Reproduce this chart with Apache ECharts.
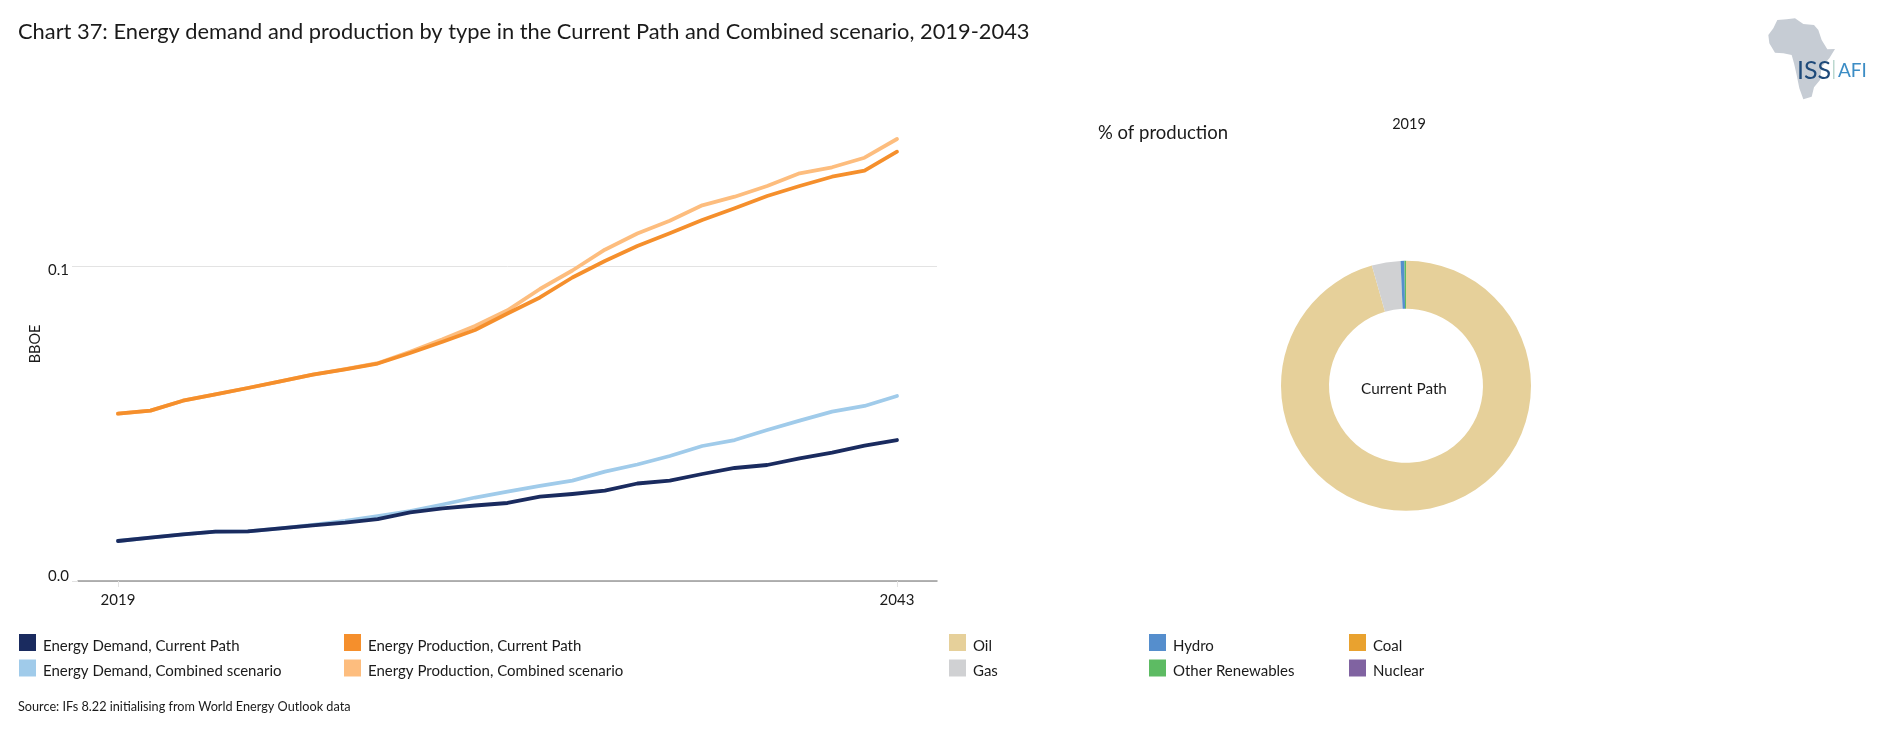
<!DOCTYPE html>
<html><head><meta charset="utf-8">
<style>html,body{margin:0;padding:0;background:#fff}#c{width:1880px;height:739px}</style>
<script src="https://cdn.jsdelivr.net/npm/echarts@6/dist/echarts.min.js"></script>
</head><body><div id="c"></div>
<script>
const years = [2019,2020,2021,2022,2023,2024,2025,2026,2027,2028,2029,2030,2031,2032,2033,2034,2035,2036,2037,2038,2039,2040,2041,2042,2043];
const demandCurrent = [.01271,.01376,.01484,.01567,.01579,.01675,.0177,.01853,.01964,.02183,.0231,.02399,.02479,.02679,.02765,.02869,.03098,.03187,.034,.03591,.03686,.03899,.04077,.04299,.0448];
const demandCombined = [.01271,.01376,.01484,.01567,.01579,.01675,.0178,.01907,.02065,.02224,.02431,.02653,.02838,.03019,.03187,.03473,.03702,.03972,.0429,.0448,.04798,.05094,.0538,.05561,.05879];
const prodCurrent = [.05316,.05412,.05729,.05933,.06133,.06346,.06556,.06727,.06911,.07245,.07604,.07976,.085,.09009,.09644,.10168,.10645,.11049,.11471,.11843,.12234,.12552,.12847,.13038,.13642];
const prodCombined = [.05316,.05412,.05729,.05933,.06133,.06346,.06556,.06735,.0692,.07286,.0768,.08103,.08602,.09279,.09867,.10527,.11042,.11449,.11938,.12212,.12552,.12955,.13146,.13451,.14045];
const yTicks = [0, 0.1];
const xTicks = [2019, 2043];
const mixNames = ['Oil','Gas','Hydro','Other Renewables','Coal','Nuclear'];
const mixValues = [95.6,3.7,0.5,0.2,0,0];
const mixColors = ['#E6D09A','#D0D1D3','#558ECD','#5DBB63','#E9A22F','#8063A1'];
const FONT = 'Lato';
const TXT = '#1a1a1a';
const africa = [[112,60],[140,58],[165,55],[190,72],[222,75],[235,90],[245,120],[262,148],[285,147],[268,175],[245,200],[240,240],[222,262],[215,290],[190,298],[178,265],[170,225],[162,190],[155,165],[130,160],[105,158],[88,130],[85,105],[100,85]];
const pair = a => a.map((v,i)=>[years[i],v]);
const line = (name,data,color,z) => ({type:'line',name,data:pair(data),z,symbol:'none',smooth:false,
  lineStyle:{color,width:3.8,cap:'round',join:'round'},itemStyle:{color}});
const legendBase = {orient:'vertical',icon:'rect',itemGap:6,itemHeight:17,itemWidth:17,padding:0,top:634,
  formatter:n=>'{t|'+n+'}',
  textStyle:{rich:{t:{fontFamily:FONT,fontSize:15,color:TXT,padding:[7,0,0,2]}}},selectedMode:false};
const leg = (left,data)=>({...legendBase,left,data});
const tt = (text,left,top,fontSize,extra) => ({text,left,top,padding:0,...extra,textStyle:{fontFamily:FONT,fontSize,fontWeight:'normal',color:TXT}});
const chart = echarts.init(document.getElementById('c'),null,{renderer:'canvas'});
chart.setOption({
  backgroundColor:'#fff',
  animation:false,
  title:[
    tt('Chart 37: Energy demand and production by type in the Current Path and Combined scenario, 2019-2043',18,21,21.85),
    tt('% of production',1098,124,18.5),
    tt('2019',1409,117,14.5,{textAlign:'center'}),
    tt('Current Path',1404,382,15.3,{textAlign:'center'}),
    tt('Source: IFs 8.22 initialising from World Energy Outlook data',18,700,12.7)
  ],
  legend:[
    leg(19,['Energy Demand, Current Path','Energy Demand, Combined scenario']),
    leg(344,['Energy Production, Current Path','Energy Production, Combined scenario']),
    leg(949,['Oil','Gas']),
    leg(1149,['Hydro','Other Renewables']),
    leg(1349,['Coal','Nuclear'])
  ],
  grid:{left:78,width:859,top:107,height:474},
  xAxis:{type:'value',min:2019-40/32.458,max:2043+40/32.458,
    axisLine:{show:true,lineStyle:{color:'#9a9a9a',width:1.5}},
    axisTick:{show:true,length:6,lineStyle:{color:'#e3e3e3'},customValues:xTicks},
    axisLabel:{customValues:xTicks,fontFamily:FONT,fontSize:15,color:TXT,margin:12,formatter:v=>String(v)},
    splitLine:{show:false}},
  yAxis:{type:'value',min:0,max:474/3147,name:'BBOE',nameLocation:'middle',nameRotate:90,nameGap:35,
    nameTextStyle:{fontFamily:FONT,fontSize:14.5,color:TXT},
    axisLine:{show:false},
    axisTick:{show:true,length:6,lineStyle:{color:'#e3e3e3'},customValues:yTicks},
    axisLabel:{customValues:yTicks,margin:9,formatter:v=>v===0?'{up|0.0}':'{down|0.1}',
      rich:{up:{fontFamily:FONT,fontSize:15,color:TXT,padding:[0,0,9,0]},down:{fontFamily:FONT,fontSize:15,color:TXT,padding:[8,0,0,0]}}},
    splitLine:{show:true,lineStyle:{color:'#e3e3e3',width:1}}},
  series:[
    line('Energy Demand, Combined scenario',demandCombined,'#A0CBEA',2),
    line('Energy Production, Combined scenario',prodCombined,'#FDBD7E',2),
    line('Energy Demand, Current Path',demandCurrent,'#1A2B5F',3),
    line('Energy Production, Current Path',prodCurrent,'#F58F2C',3),
    {type:'pie',center:[1406,385.8],radius:[77,125],startAngle:90,clockwise:true,silent:true,
     label:{show:false},labelLine:{show:false},
     data:mixNames.map((name,i)=>({name,value:mixValues[i],itemStyle:{color:mixColors[i]}}))}
  ],
  graphic:[
    {type:'group',x:1740,y:0,silent:true,children:[
      {type:'polygon',scaleX:1/3,scaleY:1/3,shape:{points:africa},style:{fill:'#C6CCD4'}},
      {type:'text',x:57,y:58,style:{text:'ISS',font:'25px Lato',fill:'#1F4A7A'}},
      {type:'rect',x:93,y:60,shape:{width:1.5,height:19},style:{fill:'#BBD8CF'}},
      {type:'text',x:98,y:61,style:{text:'AFI',font:'19px Lato',fill:'#3C8DC5'}}
    ]}
  ]
});
</script></body></html>
